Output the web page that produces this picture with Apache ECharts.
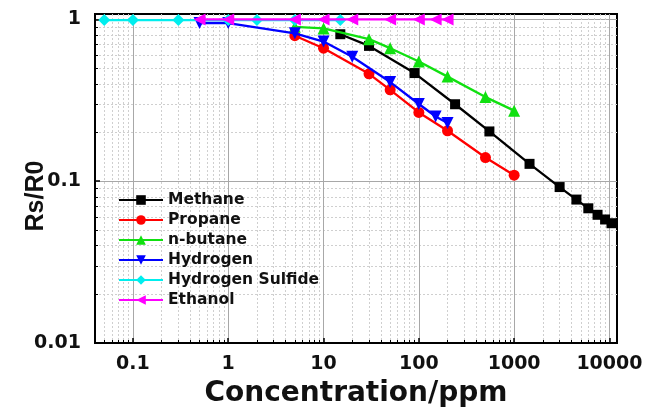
<!DOCTYPE html>
<html>
<head>
<meta charset="utf-8">
<script src="https://cdn.jsdelivr.net/npm/echarts@6.0.0/dist/echarts.min.js"></script>
<style>
html,body{margin:0;padding:0;background:#fff;}
#chart{width:645px;height:411px;}
</style>
</head>
<body>
<div id="chart"></div>
<script>
// ---- data ----
const seriesNames = ['Methane', 'Propane', 'n-butane', 'Hydrogen', 'Hydrogen Sulfide', 'Ethanol'];

const methaneX = [15, 30, 90, 240, 550, 1450, 3000, 4500, 6000, 7500, 9000, 10500];
const methaneY = [0.81, 0.686, 0.466, 0.299, 0.203, 0.128, 0.092, 0.077, 0.068, 0.062, 0.058, 0.055];

const propaneX = [5, 10, 30, 50, 100, 200, 500, 1000];
const propaneY = [0.793, 0.664, 0.461, 0.367, 0.266, 0.205, 0.140, 0.109];

const butaneX = [5, 10, 30, 50, 100, 200, 500, 1000];
const butaneY = [0.90, 0.88, 0.755, 0.664, 0.549, 0.443, 0.331, 0.273];

const hydrogenX = [0.5, 1, 5, 10, 20, 50, 100, 150, 200];
const hydrogenY = [0.95, 0.95, 0.82, 0.73, 0.588, 0.41, 0.30, 0.251, 0.229];

const h2sX = [0.05, 0.1, 0.3, 1, 2, 5, 15];
const h2sY = [0.99, 0.99, 0.99, 0.99, 0.99, 0.99, 0.99];

const ethanolX = [0.5, 1, 5, 10, 20, 50, 100, 150, 200];
const ethanolY = [1, 1, 1, 1, 1, 1, 1, 1, 1];

const xTickValues = [0.1, 1, 10, 100, 1000, 10000];
const xTickLabels = ['0.1', '1', '10', '100', '1000', '10000'];
const xMinorValues = [0.05, 0.06, 0.07, 0.08, 0.09,
  0.2, 0.3, 0.4, 0.5, 0.6, 0.7, 0.8, 0.9,
  2, 3, 4, 5, 6, 7, 8, 9,
  20, 30, 40, 50, 60, 70, 80, 90,
  200, 300, 400, 500, 600, 700, 800, 900,
  2000, 3000, 4000, 5000, 6000, 7000, 8000, 9000];

const yTickValues = [0.01, 0.1, 1];
const yTickLabels = ['0.01', '0.1', '1'];
const yMinorValues = [0.02, 0.03, 0.04, 0.05, 0.06, 0.07, 0.08, 0.09,
  0.2, 0.3, 0.4, 0.5, 0.6, 0.7, 0.8, 0.9];

// ---- styling ----
const colors = ['#000000', '#ff0000', '#10e010', '#0000ff', '#00eeee', '#ff00ff'];
const symbols = ['rect', 'circle', 'triangle', 'triangle', 'diamond', 'triangle'];
const rotations = [0, 0, 0, 180, 0, 90];
const sizes = [10, 11, 12, 12, 12, 12];

function pairs(xs, ys) { return xs.map((x, i) => [x, ys[i]]); }
const allData = [
  pairs(methaneX, methaneY), pairs(propaneX, propaneY), pairs(butaneX, butaneY),
  pairs(hydrogenX, hydrogenY), pairs(h2sX, h2sY), pairs(ethanolX, ethanolY)
];

function labelFor(values, labels) {
  return function (v) {
    for (let i = 0; i < values.length; i++) {
      if (Math.abs(Math.log10(v) - Math.log10(values[i])) < 1e-6) return labels[i];
    }
    return '';
  };
}

const FONT = 'DejaVu Sans';
const XMIN = 0.04, XMAX = 12000, YMIN = 0.01, YMAX = 1.08;

const chart = echarts.init(document.getElementById('chart'), null, {renderer: 'canvas'});
chart.setOption({
  animation: false,
  backgroundColor: '#ffffff',
  grid: {
    left: 95, right: 28, top: 14, bottom: 68,
    show: true, borderColor: '#000', borderWidth: 2, backgroundColor: 'transparent',
    outerBoundsMode: 'none', containLabel: false
  },
  legend: {
    orient: 'vertical', left: 118, top: 192, padding: 0,
    itemWidth: 44, itemHeight: 12, itemGap: 4,
    data: seriesNames,
    textStyle: {fontFamily: FONT, fontWeight: 'bold', fontSize: 15.5, color: '#111', lineHeight: 14}
  },
  xAxis: [
    {
      type: 'log', logBase: 10, min: XMIN, max: XMAX, position: 'bottom',
      name: 'Concentration/ppm', nameLocation: 'middle', nameGap: 37, nameMoveOverlap: false,
      nameTextStyle: {fontFamily: FONT, fontWeight: 'bold', fontSize: 28, color: '#111'},
      axisLine: {show: true, onZero: false, lineStyle: {color: '#000', width: 2}},
      axisTick: {show: true, inside: true, length: 5, customValues: xTickValues, lineStyle: {color: '#000', width: 1.5}},
      axisLabel: {show: true, margin: 12, customValues: xTickValues, formatter: labelFor(xTickValues, xTickLabels),
        fontFamily: FONT, fontWeight: 'bold', fontSize: 19, color: '#111'},
      splitLine: {show: true, lineStyle: {color: '#a8a8a8', width: 1, type: 'solid'}},
      minorTick: {show: false}, minorSplitLine: {show: false}
    },
    {
      type: 'log', logBase: 10, min: XMIN, max: XMAX, position: 'bottom',
      axisLine: {show: false},
      axisTick: {show: true, inside: true, length: 3, customValues: xMinorValues, lineStyle: {color: '#000', width: 1}},
      axisLabel: {show: false},
      splitLine: {show: true, lineStyle: {color: '#cfcfcf', width: 1, type: [2, 2]}}
    }
  ],
  yAxis: [
    {
      type: 'log', logBase: 10, min: YMIN, max: YMAX, position: 'left',
      name: 'Rs/R0', nameLocation: 'middle', nameGap: 46, nameMoveOverlap: false,
      nameTextStyle: {fontFamily: 'Liberation Sans', fontWeight: 'bold', fontSize: 25, color: '#111', padding: [0, 35, 0, 0]},
      axisLine: {show: true, onZero: false, lineStyle: {color: '#000', width: 2}},
      axisTick: {show: true, inside: true, length: 5, customValues: yTickValues, lineStyle: {color: '#000', width: 1.5}},
      axisLabel: {show: true, margin: 14, customValues: yTickValues, formatter: labelFor(yTickValues, yTickLabels),
        fontFamily: FONT, fontWeight: 'bold', fontSize: 19, color: '#111'},
      splitLine: {show: true, lineStyle: {color: '#a8a8a8', width: 1, type: 'solid'}},
      minorTick: {show: false}, minorSplitLine: {show: false}
    },
    {
      type: 'log', logBase: 10, min: YMIN, max: YMAX, position: 'left',
      axisLine: {show: false},
      axisTick: {show: true, inside: true, length: 3, customValues: yMinorValues, lineStyle: {color: '#000', width: 1}},
      axisLabel: {show: false},
      splitLine: {show: true, lineStyle: {color: '#cfcfcf', width: 1, type: [2, 2]}}
    }
  ],
  series: seriesNames.map((name, i) => ({
    name: name,
    type: 'line',
    xAxisIndex: 0,
    yAxisIndex: 0,
    data: allData[i],
    symbol: symbols[i],
    symbolRotate: rotations[i],
    symbolSize: sizes[i],
    showAllSymbol: true,
    clip: false,
    color: colors[i],
    itemStyle: {color: colors[i]},
    lineStyle: {color: colors[i], width: 2.3},
    z: 2 + i
  }))
});
</script>
</body>
</html>
